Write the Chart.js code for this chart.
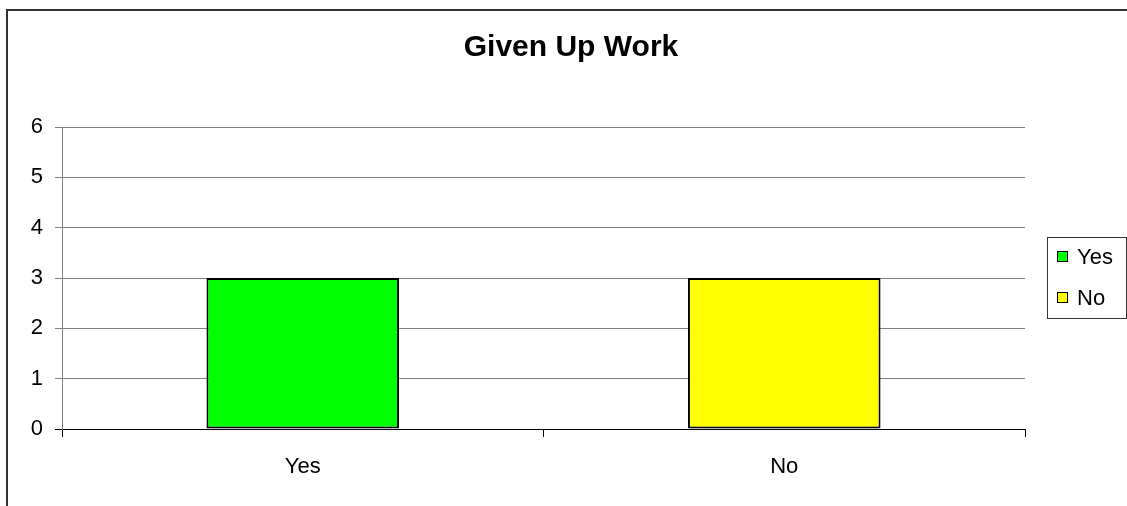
<!DOCTYPE html>
<html>
<head>
<meta charset="utf-8">
<script src="https://cdn.jsdelivr.net/npm/chart.js@4/dist/chart.umd.min.js"></script>
<style>
  body { margin: 0; background: #fff; }
  canvas { display: block; }
</style>
</head>
<body>
<canvas id="chart" width="1127" height="506"></canvas>
<script>
const title = 'Given Up Work'
const categories = ['Yes', 'No']
const values = [3, 3]
const colors = ['#00ff00', '#ffff00']
const yTicks = [0, 1, 2, 3, 4, 5, 6]

Chart.defaults.font.family = 'Arial, "Liberation Sans", sans-serif'
Chart.defaults.color = '#000'

// outer chart border (only top and left are inside the picture)
const frame = {
  id: 'frame',
  beforeDraw: chart => {
    const ctx = chart.ctx
    ctx.save()
    ctx.strokeStyle = '#333'
    ctx.lineWidth = 2
    ctx.strokeRect(7, 10, chart.width + 20, chart.height + 20)
    ctx.restore()
  }
}

// Excel-like boxed legend to the right
const boxLegend = {
  id: 'boxLegend',
  afterDraw: chart => {
    const ctx = chart.ctx
    const labels = chart.data.labels
    const bg = chart.data.datasets[0].backgroundColor
    ctx.save()
    ctx.strokeStyle = '#333'
    ctx.lineWidth = 1
    ctx.strokeRect(1047.5, 237.5, 79, 81)
    ctx.font = '22px Arial, "Liberation Sans", sans-serif'
    ctx.textBaseline = 'middle'
    labels.forEach((label, i) => {
      const y = 257 + i * 41
      ctx.fillStyle = bg[i]
      ctx.fillRect(1057.5, y - 5.5, 10, 10)
      ctx.strokeStyle = '#000'
      ctx.strokeRect(1057.5, y - 5.5, 10, 10)
      ctx.fillStyle = '#000'
      ctx.fillText(label, 1077, y + 1)
    })
    ctx.restore()
  }
}

const context = document.getElementById('chart')
const myChart = new Chart(context, {
  type: 'bar',
  data: {
    labels: categories,
    datasets: [
      {
        data: values,
        backgroundColor: colors,
        borderColor: '#000',
        borderWidth: 2,
        borderSkipped: false,
        barPercentage: 0.4,
        categoryPercentage: 1
      }
    ]
  },
  options: {
    responsive: false,
    animation: false,
    layout: { padding: { left: 15, right: 0, top: 0, bottom: 0 } },
    plugins: {
      legend: { display: false },
      tooltip: { enabled: false },
      title: {
        display: true,
        text: title,
        color: '#000',
        font: { size: 30, weight: 'bold' },
        padding: { top: 30, bottom: 61 }
      }
    },
    scales: {
      x: {
        offset: true,
        grid: {
          offset: true,
          drawOnChartArea: false,
          drawTicks: true,
          tickLength: 8,
          color: '#000'
        },
        border: { color: '#000', width: 1 },
        ticks: { font: { size: 22 }, padding: 17, color: '#000' },
        afterFit: scale => { scale.height = 77 }
      },
      y: {
        min: yTicks[0],
        max: yTicks[yTicks.length - 1],
        afterBuildTicks: scale => {
          scale.ticks = yTicks.map(v => ({ value: v }))
        },
        grid: {
          tickLength: 7,
          color: c => (c.tick && c.tick.value === 0 ? '#000' : '#808080')
        },
        border: { color: '#808080', width: 1 },
        ticks: { font: { size: 22 }, padding: 12, color: '#000' },
        afterFit: scale => { scale.width = 47 }
      },
      // empty right-hand space reserved for the legend box
      legendSpace: {
        type: 'linear',
        position: 'right',
        display: true,
        grid: { display: false },
        border: { display: false },
        ticks: { display: false },
        afterFit: scale => { scale.width = 102 }
      }
    }
  },
  plugins: [frame, boxLegend]
})
</script>
</body>
</html>
